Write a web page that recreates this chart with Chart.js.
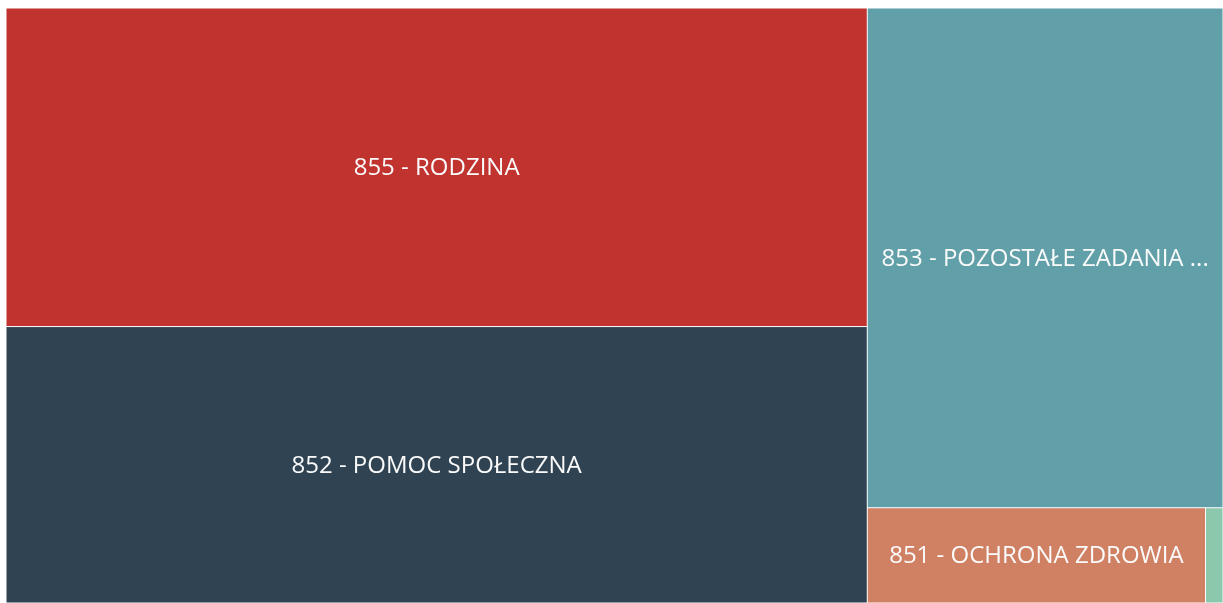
<!DOCTYPE html>
<html>
<head>
<meta charset="utf-8">
<script src="https://cdn.jsdelivr.net/npm/chart.js@4.4.0/dist/chart.umd.min.js"></script>
<style>
  html, body { margin: 0; padding: 0; background: #ffffff; }
  #wrap { width: 1223px; height: 603px; position: relative; }
</style>
</head>
<body>
<div id="wrap"><canvas id="chart"></canvas></div>
<script>
// Budget sections (dział) and their spending, PLN
const categories = [
  '855 - RODZINA',
  '852 - POMOC SPOŁECZNA',
  '853 - POZOSTAŁE ZADANIA W ZAKRESIE POLITYKI SPOŁECZNEJ',
  '851 - OCHRONA ZDROWIA',
  '854 - EDUKACYJNA OPIEKA WYCHOWAWCZA'
];
const amounts = [37890000, 32880000, 24550000, 4450000, 230000];
const colors = ['#C0332F', '#2F4352', '#62A0A9', '#D08063', '#8CC8AC'];

const GOLDEN = (1 + Math.sqrt(5)) / 2;

// Squarified treemap layout (row by row, target aspect = ratio)
function squarify(values, x0, y0, x1, y1, ratio) {
  const order = values.map((v, i) => i).sort((a, b) => values[b] - values[a]);
  const out = new Array(values.length);
  let value = values.reduce((s, v) => s + v, 0);
  let i0 = 0, i1 = 0;
  const n = order.length;
  while (i0 < n) {
    const dx = x1 - x0, dy = y1 - y0;
    let sum = values[order[i1++]];
    let minV = sum, maxV = sum;
    const alpha = Math.max(dy / dx, dx / dy) / (value * ratio);
    let beta = sum * sum * alpha;
    let minRatio = Math.max(maxV / beta, beta / minV);
    for (; i1 < n; ++i1) {
      const v = values[order[i1]];
      sum += v;
      const mn = Math.min(minV, v), mx = Math.max(maxV, v);
      beta = sum * sum * alpha;
      const r = Math.max(mx / beta, beta / mn);
      if (r > minRatio) { sum -= v; break; }
      minRatio = r; minV = mn; maxV = mx;
    }
    const row = order.slice(i0, i1);
    if (dx < dy) {
      const h = dy * sum / value;
      let x = x0;
      row.forEach(k => {
        const w = dx * values[k] / sum;
        out[k] = { x0: x, y0: y0, x1: x + w, y1: y0 + h };
        x += w;
      });
      y0 += h;
    } else {
      const w = dx * sum / value;
      let y = y0;
      row.forEach(k => {
        const h = dy * values[k] / sum;
        out[k] = { x0: x0, y0: y, x1: x0 + w, y1: y + h };
        y += h;
      });
      x0 += w;
    }
    value -= sum;
    i0 = i1;
  }
  return out;
}

// Rectangle element for one treemap cell
class CellElement extends Chart.Element {
  draw(ctx) {
    const { x, y, width, height, options } = this;
    if (!(width > 0 && height > 0)) return;
    ctx.save();
    ctx.fillStyle = options.backgroundColor;
    ctx.fillRect(x, y, width, height);
    ctx.restore();
  }
  inRange(mx, my) {
    return mx >= this.x && mx <= this.x + this.width && my >= this.y && my <= this.y + this.height;
  }
  inXRange(mx) { return mx >= this.x && mx <= this.x + this.width; }
  inYRange(my) { return my >= this.y && my <= this.y + this.height; }
  getCenterPoint() { return { x: this.x + this.width / 2, y: this.y + this.height / 2 }; }
  tooltipPosition() { return this.getCenterPoint(); }
}
CellElement.id = 'cell';
CellElement.defaults = {};
CellElement.defaultRoutes = { backgroundColor: 'backgroundColor' };

// Treemap controller: lays cells out on the linear x/y scales (0..1 each)
class TreemapController extends Chart.DatasetController {
  update(mode) {
    const meta = this._cachedMeta;
    this.updateElements(meta.data, 0, meta.data.length, mode);
  }
  updateElements(cells, start, count, mode) {
    const meta = this._cachedMeta;
    const xs = meta.xScale, ys = meta.yScale;
    const ds = this.getDataset();
    const aspect = Math.abs(xs.right - xs.left) / Math.abs(ys.bottom - ys.top);
    const layout = squarify(ds.data, 0, 0, aspect, 1, ds.ratio || GOLDEN);
    const gap = (ds.spacing || 0) / 2;
    for (let i = start; i < start + count; i++) {
      const r = layout[i];
      const left = xs.getPixelForValue(r.x0 / aspect);
      const right = xs.getPixelForValue(r.x1 / aspect);
      const top = ys.getPixelForValue(r.y0);
      const bottom = ys.getPixelForValue(r.y1);
      this.updateElement(cells[i], i, {
        x: left + gap,
        y: top + gap,
        width: right - left - 2 * gap,
        height: bottom - top - 2 * gap,
        options: this.resolveDataElementOptions(i, mode)
      }, mode);
    }
  }
  draw() {
    const ctx = this.chart.ctx;
    this._cachedMeta.data.forEach(el => el.draw(ctx));
  }
}
TreemapController.id = 'treemap';
TreemapController.defaults = { datasetElementType: false, dataElementType: 'cell' };
TreemapController.overrides = {
  scales: { x: { type: 'linear', display: false }, y: { type: 'linear', display: false } }
};

// Centered white labels, shortened with "..." when the cell is too narrow
const cellLabels = {
  id: 'cellLabels',
  afterDatasetsDraw(chart) {
    const ctx = chart.ctx;
    const meta = chart.getDatasetMeta(0);
    const pad = 12;
    ctx.save();
    ctx.font = '24px "Open Sans", sans-serif';
    ctx.fillStyle = '#fbfbfb';
    ctx.textAlign = 'center';
    ctx.textBaseline = 'middle';
    meta.data.forEach((el, i) => {
      const maxW = el.width - 2 * pad;
      if (maxW < 40 || el.height < 30) return;
      let t = chart.data.labels[i];
      if (ctx.measureText(t).width > maxW) {
        while (t.length && ctx.measureText(t + '...').width > maxW) t = t.slice(0, -1);
        t += '...';
      }
      ctx.fillText(t, el.x + el.width / 2, el.y + el.height / 2 + 1);
    });
    ctx.restore();
  }
};

Chart.register(CellElement, TreemapController);

new Chart(document.getElementById('chart'), {
  type: 'treemap',
  data: {
    labels: categories,
    datasets: [{
      data: amounts,
      backgroundColor: colors,
      spacing: 1,
      ratio: GOLDEN
    }]
  },
  options: {
    responsive: true,
    maintainAspectRatio: false,
    animation: false,
    layout: { padding: { left: 6, top: 8, right: -1, bottom: -1 } },
    scales: {
      x: { type: 'linear', min: 0, max: 1, display: false },
      y: { type: 'linear', min: 0, max: 1, reverse: true, display: false }
    },
    plugins: {
      legend: { display: false },
      tooltip: { enabled: false }
    }
  },
  plugins: [cellLabels]
});
</script>
</body>
</html>
